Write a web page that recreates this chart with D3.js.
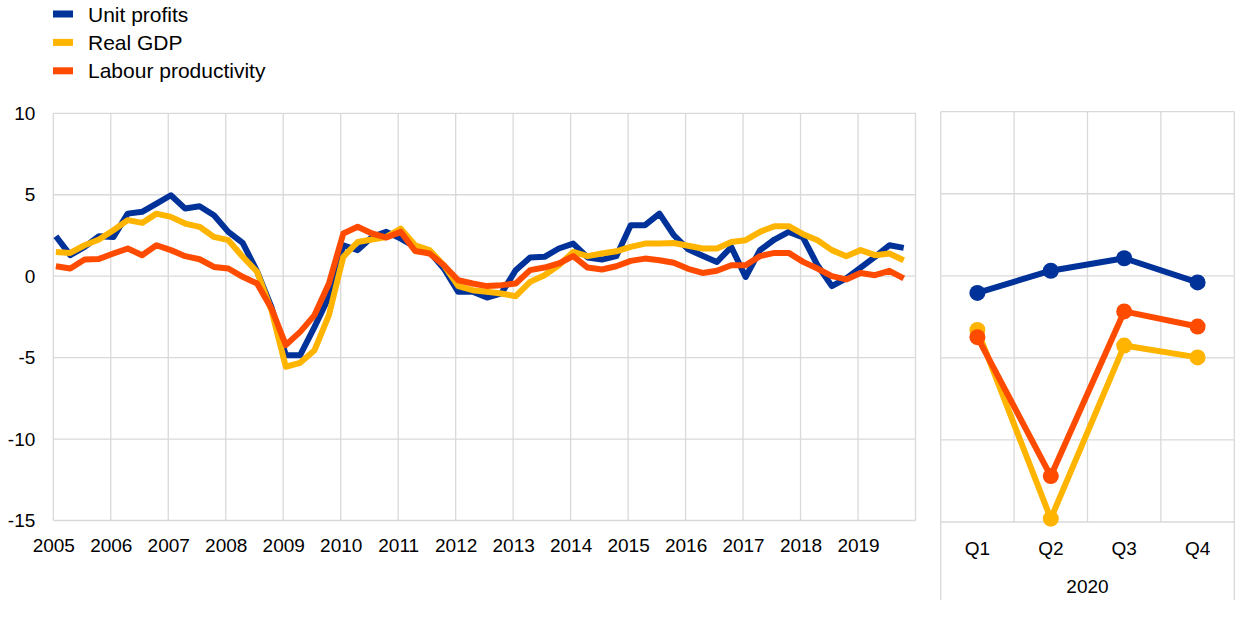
<!DOCTYPE html>
<html>
<head>
<meta charset="utf-8">
<script src="https://cdn.jsdelivr.net/npm/d3@7"></script>
<style>
  html, body { margin: 0; padding: 0; background: #fff; }
  svg { display: block; font-family: "Liberation Sans", Arial, sans-serif; }
</style>
</head>
<body>
<svg id="chart" width="1240" height="628"></svg>
<script>
// ---------- data ----------
const seriesNames = ["Unit profits", "Real GDP", "Labour productivity"];
const seriesColors = ["#003299", "#ffb400", "#ff4b00"];
const yearLabels = ["2005","2006","2007","2008","2009","2010","2011","2012","2013","2014","2015","2016","2017","2018","2019"];
const yTicks = [10, 5, 0, -5, -10, -15];

// quarterly, 2005Q1 - 2019Q4
const unitProfits = [
  2.45, 1.29, 1.8, 2.45,
  2.4, 3.84, 3.95, 4.46,
  4.97, 4.15, 4.29, 3.74,
  2.72, 2.04, 0.3, -1.9,
  -4.85, -4.85, -3.11, -1.27,
  1.9, 1.6, 2.41, 2.72,
  2.31, 1.8, 1.49, 0.47,
  -0.96, -0.96, -1.31, -1.06,
  0.37, 1.15, 1.19, 1.7,
  2.0, 1.15, 1.02, 1.23,
  3.13, 3.13, 3.84, 2.52,
  1.65, 1.25, 0.87, 1.79,
  -0.05, 1.6, 2.25, 2.72,
  2.37, 0.67, -0.61, -0.14,
  0.53, 1.19, 1.9, 1.74
];
const realGDP = [
  1.49, 1.43, 1.9, 2.25,
  2.82, 3.44, 3.27, 3.84,
  3.64, 3.23, 3.03, 2.41,
  2.21, 1.19, 0.27, -2.09,
  -5.56, -5.32, -4.54, -2.39,
  1.19, 2.1, 2.25, 2.41,
  2.92, 1.9, 1.6, 0.67,
  -0.61, -0.86, -0.96, -1.06,
  -1.23, -0.35, 0.06, 0.67,
  1.49, 1.23, 1.39, 1.53,
  1.8, 2.0, 2.0, 2.04,
  1.87, 1.7, 1.7, 2.1,
  2.21, 2.72, 3.07, 3.07,
  2.58, 2.21, 1.6, 1.23,
  1.6, 1.29, 1.39, 0.98
];
const labourProductivity = [
  0.61, 0.47, 1.02, 1.06,
  1.39, 1.7, 1.29, 1.9,
  1.6, 1.23, 1.04, 0.57,
  0.47, -0.04, -0.45, -1.98,
  -4.23, -3.42, -2.39, -0.45,
  2.62, 3.03, 2.62, 2.37,
  2.72, 1.55, 1.39, 0.67,
  -0.25, -0.45, -0.61, -0.55,
  -0.45, 0.37, 0.53, 0.78,
  1.23, 0.53, 0.41, 0.61,
  0.94, 1.08, 0.98, 0.82,
  0.45, 0.2, 0.33, 0.67,
  0.67, 1.23, 1.43, 1.43,
  0.88, 0.47, 0.0, -0.2,
  0.2, 0.06, 0.33, -0.14
];

// 2020 quarters
const quarters2020 = ["Q1", "Q2", "Q3", "Q4"];
const yearLabel2020 = "2020";
const unitProfits2020 = [-1.04, 0.31, 1.07, -0.4];
const realGDP2020 = [-3.3, -14.8, -4.25, -4.97];
const labourProductivity2020 = [-3.74, -12.2, -2.17, -3.09];

// ---------- drawing ----------
const svg = d3.select("#chart");
const gridColor = "#d9d9d9";
const lineW = 6;

const leftSeries = [unitProfits, realGDP, labourProductivity];
const rightSeries = [unitProfits2020, realGDP2020, labourProductivity2020];

// left panel scales
const xL = d3.scaleLinear().domain([0, 60]).range([53.3, 915.5]);
const yL = d3.scaleLinear().domain([-15, 10]).range([520.5, 113.3]);

// left grid
const gL = svg.append("g");
gL.selectAll("line.h").data(yTicks).enter().append("line")
  .attr("x1", xL(0)).attr("x2", xL(60))
  .attr("y1", d => yL(d)).attr("y2", d => yL(d))
  .attr("stroke", gridColor).attr("stroke-width", 1.3);
gL.selectAll("line.v").data(d3.range(0, 16)).enter().append("line")
  .attr("x1", d => xL(d * 4)).attr("x2", d => xL(d * 4))
  .attr("y1", yL(10)).attr("y2", yL(-15))
  .attr("stroke", gridColor).attr("stroke-width", 1.3);

// y axis labels (plain hyphen minus as in the original)
const yAxis = d3.axisLeft(yL).tickValues(yTicks).tickFormat(d => String(d))
  .tickSize(0).tickPadding(18);
const yAxG = svg.append("g").attr("transform", `translate(${xL(0)},0)`).call(yAxis);
yAxG.select(".domain").remove();
yAxG.selectAll("text").attr("font-size", 19).attr("fill", "#000")
  .attr("font-family", "'Liberation Sans', Arial, sans-serif");

// x axis labels
const xAxis = d3.axisBottom(xL).tickValues(d3.range(0, 15).map(d => d * 4))
  .tickFormat((d, i) => yearLabels[i]).tickSize(0).tickPadding(18);
const xAxG = svg.append("g").attr("transform", `translate(0,${yL(-15)})`).call(xAxis);
xAxG.select(".domain").remove();
xAxG.selectAll("text").attr("font-size", 19).attr("fill", "#000")
  .attr("font-family", "'Liberation Sans', Arial, sans-serif");

// left lines
const lineL = d3.line().x((d, i) => xL(i + 0.18)).y(d => yL(d));
leftSeries.forEach((s, k) => {
  svg.append("path").datum(s).attr("d", lineL)
    .attr("fill", "none").attr("stroke", seriesColors[k])
    .attr("stroke-width", lineW).attr("stroke-linejoin", "round");
});

// right panel
const xR = d3.scaleBand().domain(quarters2020).range([940.7, 1234.3]);
const yR = d3.scaleLinear().domain([-15, 10]).range([522, 111.7]);
const gR = svg.append("g");
gR.selectAll("line.h").data(yTicks).enter().append("line")
  .attr("x1", xR.range()[0]).attr("x2", xR.range()[1])
  .attr("y1", d => yR(d)).attr("y2", d => yR(d))
  .attr("stroke", gridColor).attr("stroke-width", 1.3);
gR.selectAll("line.v").data(quarters2020.slice(1)).enter().append("line")
  .attr("x1", d => xR(d)).attr("x2", d => xR(d))
  .attr("y1", yR(10)).attr("y2", yR(-15))
  .attr("stroke", gridColor).attr("stroke-width", 1.3);
gR.selectAll("line.edge").data(xR.range()).enter().append("line")
  .attr("x1", d => d).attr("x2", d => d)
  .attr("y1", yR(10)).attr("y2", 600)
  .attr("stroke", gridColor).attr("stroke-width", 1.3);

const xRAxis = d3.axisBottom(xR).tickSize(0).tickPadding(20);
const xRG = svg.append("g").attr("transform", `translate(0,${yR(-15)})`).call(xRAxis);
xRG.select(".domain").remove();
xRG.selectAll("text").attr("font-size", 19).attr("fill", "#000")
  .attr("font-family", "'Liberation Sans', Arial, sans-serif");
svg.append("text").attr("x", (xR.range()[0] + xR.range()[1]) / 2).attr("y", 593)
  .attr("text-anchor", "middle").attr("font-size", 19).attr("fill", "#000")
  .text(yearLabel2020);

const lineR = d3.line().x((d, i) => xR(quarters2020[i]) + xR.bandwidth() / 2).y(d => yR(d));
rightSeries.forEach((s, k) => {
  const g = svg.append("g");
  g.append("path").datum(s).attr("d", lineR)
    .attr("fill", "none").attr("stroke", seriesColors[k])
    .attr("stroke-width", lineW).attr("stroke-linejoin", "round");
  g.selectAll("circle").data(s).enter().append("circle")
    .attr("cx", (d, i) => xR(quarters2020[i]) + xR.bandwidth() / 2)
    .attr("cy", d => yR(d)).attr("r", 8)
    .attr("fill", seriesColors[k]);
});

// legend
const leg = svg.append("g");
seriesNames.forEach((name, k) => {
  const yC = 14 + k * 28.4;
  leg.append("rect").attr("x", 53).attr("y", yC - 3.5).attr("width", 20).attr("height", 7)
    .attr("fill", seriesColors[k]);
  leg.append("text").attr("x", 88).attr("y", yC + 7.5)
    .attr("font-size", 21).attr("fill", "#000").text(name);
});
</script>
</body>
</html>
